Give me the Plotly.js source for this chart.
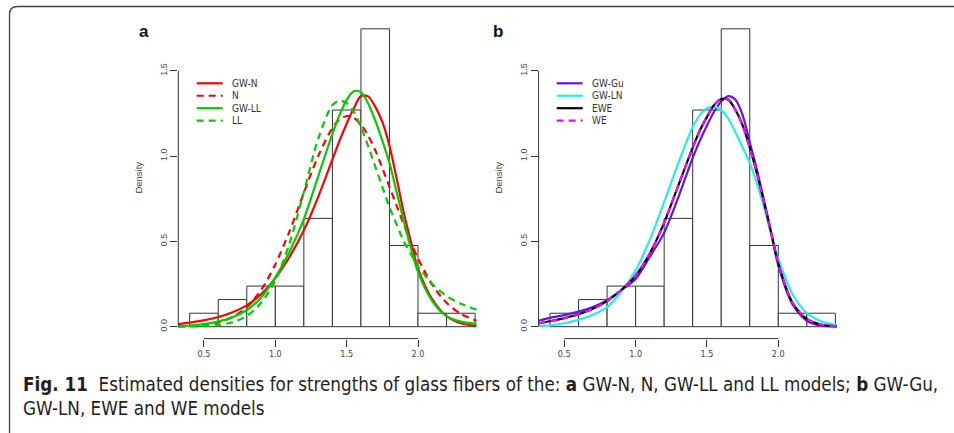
<!DOCTYPE html>
<html>
<head>
<meta charset="utf-8">
<script src="https://cdn.plot.ly/plotly-3.0.1.min.js"></script>
<style>html,body{margin:0;padding:0;background:#fff;}#chart{width:954px;height:433px;}</style>
</head>
<body>
<div id="chart"></div>
<script>
// ---------- data ----------
const binEdges = [0.4, 0.6, 0.8, 1.0, 1.2, 1.4, 1.6, 1.8, 2.0, 2.2, 2.4];
const density  = [0.079, 0.159, 0.238, 0.238, 0.635, 1.270, 1.746, 0.476, 0.079, 0.079];

const xGrid = [0.32, 0.4, 0.5, 0.6, 0.7, 0.8, 0.9, 1.0, 1.1, 1.2, 1.3, 1.4, 1.45, 1.5, 1.55, 1.6, 1.65, 1.7, 1.75, 1.8, 1.85, 1.9, 1.95, 2.0, 2.1, 2.2, 2.3, 2.41];

// panel a
const gwN  = [0.015, 0.024, 0.037, 0.057, 0.085, 0.125, 0.19, 0.285, 0.41, 0.565, 0.76, 0.98, 1.09, 1.19, 1.28, 1.352, 1.35, 1.29, 1.2, 1.06, 0.87, 0.67, 0.5, 0.34, 0.16, 0.062, 0.02, 0.004];
const nrm  = [0.002, 0.004, 0.01, 0.025, 0.056, 0.115, 0.215, 0.365, 0.56, 0.785, 1.0, 1.165, 1.215, 1.235, 1.225, 1.185, 1.12, 1.035, 0.93, 0.82, 0.71, 0.6, 0.495, 0.4, 0.245, 0.14, 0.075, 0.035];
const gwLL = [0.003, 0.007, 0.015, 0.03, 0.055, 0.098, 0.17, 0.29, 0.44, 0.63, 0.88, 1.13, 1.24, 1.33, 1.38, 1.375, 1.31, 1.21, 1.09, 0.96, 0.79, 0.62, 0.46, 0.32, 0.15, 0.062, 0.03, 0.017];
const ll   = [0.0003, 0.001, 0.003, 0.009, 0.026, 0.062, 0.14, 0.27, 0.49, 0.79, 1.1, 1.3, 1.325, 1.31, 1.26, 1.17, 1.06, 0.94, 0.82, 0.7, 0.6, 0.5, 0.425, 0.355, 0.25, 0.18, 0.135, 0.1];

// panel b
const gwGu = [0.035, 0.052, 0.068, 0.088, 0.115, 0.155, 0.215, 0.28, 0.41, 0.55, 0.76, 0.99, 1.09, 1.18, 1.26, 1.32, 1.352, 1.33, 1.24, 1.08, 0.92, 0.74, 0.55, 0.36, 0.13, 0.035, 0.006, 0.001];
const gwLN = [0.004, 0.008, 0.02, 0.04, 0.07, 0.115, 0.205, 0.33, 0.51, 0.73, 0.96, 1.17, 1.24, 1.28, 1.29, 1.27, 1.22, 1.14, 1.05, 0.96, 0.84, 0.70, 0.54, 0.40, 0.19, 0.08, 0.032, 0.01];
const ewe  = [0.02, 0.032, 0.05, 0.073, 0.105, 0.15, 0.215, 0.30, 0.43, 0.61, 0.83, 1.05, 1.15, 1.23, 1.3, 1.335, 1.33, 1.27, 1.18, 1.05, 0.9, 0.73, 0.55, 0.37, 0.14, 0.045, 0.012, 0.002];
const we   = [0.019, 0.031, 0.05, 0.073, 0.105, 0.15, 0.215, 0.30, 0.43, 0.61, 0.83, 1.05, 1.15, 1.23, 1.3, 1.335, 1.33, 1.27, 1.18, 1.05, 0.9, 0.73, 0.55, 0.37, 0.14, 0.045, 0.012, 0.002];

const xTicks = [0.5, 1.0, 1.5, 2.0];
const xTickText = ["0.5", "1.0", "1.5", "2.0"];
const yTicks = [0, 0.5, 1.0, 1.5];
const yTickText = ["0.0", "0.5", "1.0", "1.5"];

const namesA  = ["GW-N", "N", "GW-LL", "LL"];
const colorsA = ["#ff0000", "#ff0000", "#00cd00", "#00cd00"];
const dashesA = ["solid", "7px,5px", "solid", "7px,5px"];
const namesB  = ["GW-Gu", "GW-LN", "EWE", "WE"];
const colorsB = ["#6014f0", "#22eeee", "#000000", "#ff00ff"];
const dashesB = ["solid", "solid", "solid", "7px,5px"];

const panelLetters = ["a", "b"];
const yTitle = "Density";
const caption = "<b>Fig. 11</b>  Estimated densities for strengths of glass fibers of the: <b>a</b> GW-N, N, GW-LL and LL models; <b>b</b> GW-Gu,<br>GW-LN, EWE and WE models";

// ---------- layout helpers ----------
const W = 954, H = 433;
const px = v => v / W;
const py = v => 1 - v / H;
const NARROW = "Liberation Sans Narrow, Arial Narrow, DejaVu Sans Condensed, sans-serif";
const SANS = "Liberation Sans, Arial, sans-serif";

const centers = density.map((_, i) => (binEdges[i] + binEdges[i + 1]) / 2);
const widths = density.map((_, i) => binEdges[i + 1] - binEdges[i]);

function barTrace(xa, ya) {
  return {type: "bar", x: centers, y: density, width: widths, xaxis: xa, yaxis: ya,
    marker: {color: "#ffffff", line: {color: "#333333", width: 1}}, showlegend: false, hoverinfo: "skip"};
}
function curve(ys, color, dash, xa, ya, name) {
  return {type: "scatter", mode: "lines", x: xGrid, y: ys, name: name, xaxis: xa, yaxis: ya,
    line: {color: color, dash: dash, width: 2.2, shape: "spline", smoothing: 0.8}, showlegend: false};
}

const seriesA = [gwN, nrm, gwLL, ll];
const seriesB = [gwGu, gwLN, ewe, we];

const data = [barTrace("x", "y")];
seriesA.forEach((s, i) => data.push(curve(s, colorsA[i], dashesA[i], "x", "y", namesA[i])));
data.push(barTrace("x2", "y2"));
seriesB.forEach((s, i) => data.push(curve(s, colorsB[i], dashesB[i], "x2", "y2", namesB[i])));

const xRange = [0.32, 2.48];
const yRange = [-0.0698, 1.816];

function xAxis(domain, anchor) {
  return {domain: domain, range: xRange, anchor: anchor, showgrid: false, zeroline: false, showline: false,
    tickmode: "array", tickvals: xTicks, ticktext: xTickText, ticks: "outside", ticklen: 7, tickwidth: 1, tickcolor: "#333",
    tickfont: {family: NARROW, size: 9, color: "#444"}};
}
function yAxis(domain, anchor) {
  return {domain: domain, range: yRange, anchor: anchor, showgrid: false, zeroline: false, showline: false,
    tickmode: "array", tickvals: yTicks, ticktext: yTickText, ticks: "outside", ticklen: 7, tickwidth: 1, tickcolor: "#333",
    tickangle: -90, tickfont: {family: SANS, size: 9, color: "#444"},
    title: {text: yTitle, font: {family: SANS, size: 9.5, color: "#444"}, standoff: 14}};
}

const yDom = [py(338.6), py(16.9)];
const layout = {
  width: W, height: H, margin: {l: 0, r: 0, t: 0, b: 0}, paper_bgcolor: "#fff", plot_bgcolor: "rgba(0,0,0,0)",
  showlegend: false, bargap: 0,
  xaxis: xAxis([px(178.3), px(486.5)], "y"),
  yaxis: yAxis(yDom, "x"),
  xaxis2: xAxis([px(538.6), px(846.8)], "y2"),
  yaxis2: yAxis(yDom, "x2"),
  shapes: [], annotations: []
};

// R-style axis lines spanning only the tick range
[["x", "y"], ["x2", "y2"]].forEach(([xa, ya]) => {
  layout.shapes.push({type: "line", xref: xa, yref: ya + " domain", x0: xTicks[0], x1: xTicks[xTicks.length - 1], y0: 0, y1: 0, line: {color: "#333", width: 1}});
  layout.shapes.push({type: "line", xref: xa + " domain", yref: ya, x0: 0, x1: 0, y0: yTicks[0], y1: yTicks[yTicks.length - 1], line: {color: "#333", width: 1}});
});

// figure frame with rounded corner
const fl = px(9.5), ft = py(6.5), rx = 8 / W, ry = 8 / H;
layout.shapes.push({type: "path", xref: "paper", yref: "paper", layer: "above",
  path: `M ${fl},-0.1 L ${fl},${ft - ry} Q ${fl},${ft} ${fl + rx},${ft} L 1.1,${ft}`,
  line: {color: "#444", width: 1.3}});

// legends
function legend(names, colors, dashes, x0) {
  names.forEach((n, i) => {
    const yy = py(83.3 + i * 12.45);
    layout.shapes.push({type: "line", xref: "paper", yref: "paper", x0: px(x0), x1: px(x0 + 26), y0: yy, y1: yy,
      line: {color: colors[i], width: 2.2, dash: dashes[i]}});
    layout.annotations.push({xref: "paper", yref: "paper", x: px(x0 + 33), y: yy, xanchor: "left", yanchor: "middle",
      text: n, showarrow: false, font: {family: NARROW, size: 10, color: "#333"}});
  });
}
legend(namesA, colorsA, dashesA, 196.7);
legend(namesB, colorsB, dashesB, 556.7);

// panel letters
[[143.5, panelLetters[0]], [498, panelLetters[1]]].forEach(([x, t]) => {
  layout.annotations.push({xref: "paper", yref: "paper", x: px(x), y: py(32), xanchor: "center", yanchor: "middle",
    text: "<b>" + t + "</b>", showarrow: false, font: {family: SANS, size: 17, color: "#111"}});
});

// caption
layout.annotations.push({xref: "paper", yref: "paper", x: px(21), y: py(372), xanchor: "left", yanchor: "top", align: "left",
  text: caption, showarrow: false, font: {family: NARROW, size: 18.7, color: "#231f20"}});

Plotly.newPlot("chart", data, layout, {staticPlot: true, displayModeBar: false});
</script>
</body>
</html>
